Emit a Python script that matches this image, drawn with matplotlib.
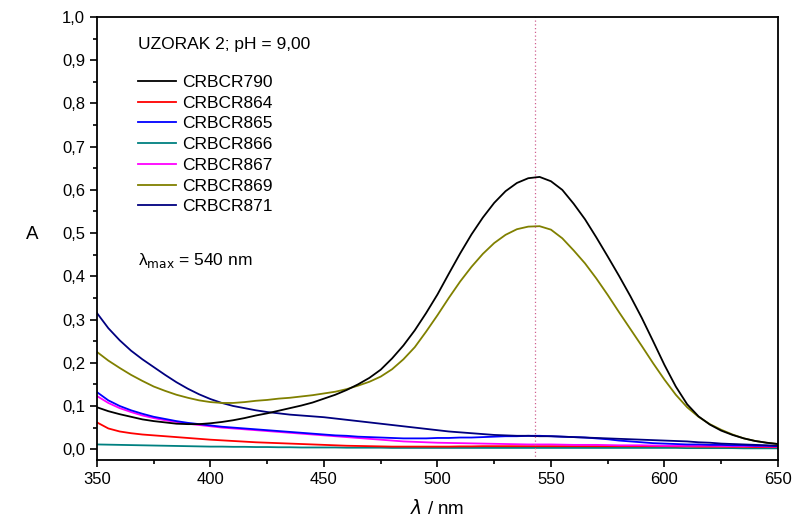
import matplotlib
matplotlib.use("Agg")
import matplotlib.pyplot as plt
from matplotlib.ticker import MultipleLocator, FuncFormatter

plt.rcParams['font.family'] = ['Liberation Sans', 'DejaVu Sans']

wavelength = list(range(350, 651, 5))

crbcr790 = [0.097, 0.088, 0.081, 0.075, 0.069, 0.065, 0.062, 0.059, 0.058, 0.058,
            0.060, 0.063, 0.067, 0.072, 0.078, 0.083, 0.089, 0.095, 0.101, 0.108,
            0.117, 0.126, 0.137, 0.150, 0.165, 0.184, 0.210, 0.240, 0.275, 0.315,
            0.358, 0.406, 0.453, 0.497, 0.536, 0.570, 0.597, 0.616, 0.627, 0.630,
            0.620, 0.600, 0.568, 0.532, 0.490, 0.446, 0.401, 0.354, 0.304, 0.250,
            0.195, 0.145, 0.104, 0.076, 0.057, 0.043, 0.033, 0.025, 0.019, 0.015, 0.012]
crbcr864 = [0.062, 0.048, 0.041, 0.037, 0.034, 0.032, 0.030, 0.028, 0.026, 0.024,
            0.022, 0.0205, 0.019, 0.0175, 0.016, 0.015, 0.014, 0.013, 0.012, 0.011,
            0.010, 0.009, 0.008, 0.0075, 0.007, 0.0065, 0.006, 0.006, 0.006, 0.006,
            0.006, 0.006, 0.0065, 0.0065, 0.007, 0.007, 0.007, 0.007, 0.007, 0.007,
            0.007, 0.007, 0.007, 0.007, 0.007, 0.007, 0.007, 0.007, 0.007, 0.007,
            0.007, 0.0065, 0.0065, 0.006, 0.006, 0.006, 0.0055, 0.0055, 0.005, 0.005, 0.005]
crbcr865 = [0.132, 0.113, 0.100, 0.090, 0.082, 0.075, 0.070, 0.065, 0.061, 0.058,
            0.055, 0.052, 0.050, 0.048, 0.046, 0.044, 0.042, 0.040, 0.038, 0.036,
            0.034, 0.032, 0.031, 0.029, 0.028, 0.027, 0.026, 0.025, 0.025, 0.025,
            0.026, 0.026, 0.027, 0.027, 0.028, 0.029, 0.030, 0.030, 0.031, 0.031,
            0.030, 0.029, 0.028, 0.027, 0.025, 0.023, 0.020, 0.018, 0.016, 0.014,
            0.013, 0.012, 0.011, 0.011, 0.010, 0.010, 0.009, 0.009, 0.008, 0.008, 0.007]
crbcr866 = [0.011, 0.0105, 0.010, 0.0095, 0.009, 0.0085, 0.008, 0.0075, 0.007, 0.0065,
            0.006, 0.006, 0.0055, 0.0055, 0.005, 0.005, 0.0045, 0.0045, 0.004, 0.004,
            0.004, 0.004, 0.0035, 0.0035, 0.0035, 0.0035, 0.003, 0.003, 0.003, 0.003,
            0.003, 0.003, 0.003, 0.003, 0.003, 0.003, 0.003, 0.003, 0.003, 0.003,
            0.003, 0.003, 0.003, 0.003, 0.003, 0.003, 0.003, 0.003, 0.003, 0.003,
            0.003, 0.003, 0.0025, 0.0025, 0.0025, 0.0025, 0.0025, 0.002, 0.002, 0.002, 0.002]
crbcr867 = [0.123, 0.107, 0.095, 0.086, 0.078, 0.072, 0.067, 0.063, 0.059, 0.056,
            0.053, 0.050, 0.048, 0.046, 0.044, 0.042, 0.040, 0.038, 0.036, 0.034,
            0.032, 0.030, 0.028, 0.026, 0.024, 0.022, 0.020, 0.018, 0.017, 0.016,
            0.015, 0.0145, 0.014, 0.0135, 0.013, 0.0125, 0.012, 0.0115, 0.011, 0.011,
            0.011, 0.0105, 0.010, 0.010, 0.010, 0.0095, 0.009, 0.009, 0.009, 0.0085,
            0.008, 0.008, 0.008, 0.008, 0.008, 0.0075, 0.007, 0.007, 0.007, 0.0065, 0.006]
crbcr869 = [0.225, 0.205, 0.188, 0.172, 0.158, 0.145, 0.135, 0.126, 0.119, 0.113,
            0.109, 0.107, 0.107, 0.109, 0.112, 0.114, 0.117, 0.119, 0.122, 0.125,
            0.129, 0.133, 0.139, 0.147, 0.156, 0.168, 0.185, 0.208, 0.236, 0.272,
            0.310, 0.350, 0.388, 0.422, 0.452, 0.477, 0.496, 0.509, 0.515, 0.516,
            0.508, 0.488, 0.460, 0.430, 0.395, 0.357, 0.317, 0.278, 0.239, 0.199,
            0.161, 0.126, 0.097, 0.075, 0.058, 0.045, 0.034, 0.025, 0.019, 0.015, 0.012]
crbcr871 = [0.315, 0.280, 0.252, 0.228, 0.208, 0.190, 0.172, 0.155, 0.140, 0.127,
            0.116, 0.107, 0.100, 0.095, 0.090, 0.086, 0.083, 0.080, 0.078, 0.076,
            0.074, 0.071, 0.068, 0.065, 0.062, 0.059, 0.056, 0.053, 0.050, 0.047,
            0.044, 0.041, 0.039, 0.037, 0.035, 0.033, 0.032, 0.031, 0.031, 0.030,
            0.030, 0.029, 0.028, 0.027, 0.026, 0.025, 0.024, 0.023, 0.022, 0.021,
            0.020, 0.019, 0.018, 0.016, 0.015, 0.013, 0.012, 0.011, 0.010, 0.009, 0.008]

series_names = ["CRBCR790", "CRBCR864", "CRBCR865", "CRBCR866", "CRBCR867", "CRBCR869", "CRBCR871"]
series_values = [crbcr790, crbcr864, crbcr865, crbcr866, crbcr867, crbcr869, crbcr871]
series_colors = ["#000000", "#ff0000", "#0000ff", "#008080", "#ff00ff", "#808000", "#000080"]

lambda_max_line = 543

fig = plt.figure(figsize=(7.93, 5.25), dpi=100)
ax = fig.add_axes([0.1223, 0.1238, 0.8587, 0.8438])

draw_order = [3, 1, 4, 2, 6, 5, 0]
handles = {}
for i in draw_order:
    h, = ax.plot(wavelength, series_values[i], color=series_colors[i], lw=1.3, label=series_names[i])
    handles[i] = h

ax.axvline(lambda_max_line, color="#d06090", lw=0.9, ls=(0, (1, 2)))

ax.set_xlim(350, 650)
ax.set_ylim(-0.025, 1.0)
ax.xaxis.set_major_locator(MultipleLocator(50))
ax.xaxis.set_minor_locator(MultipleLocator(25))
ax.yaxis.set_major_locator(MultipleLocator(0.1))
ax.yaxis.set_minor_locator(MultipleLocator(0.05))
ax.yaxis.set_major_formatter(FuncFormatter(lambda v, p: f"{v:.1f}".replace(".", ",").replace("-0,0", "0,0")))
ax.tick_params(axis='both', which='major', direction='out', length=5, width=1.2, labelsize=12, colors='black')
ax.tick_params(axis='both', which='minor', direction='out', length=3, width=1.2)
for s in ax.spines.values():
    s.set_linewidth(1.3)

ax.set_xlabel(r"$\lambda$ / nm", fontsize=13.5, labelpad=9)
ax.set_ylabel("A", fontsize=13.5, rotation=0, va='center')
ax.yaxis.set_label_coords(-0.095, 0.51)

ax.text(0.06, 0.939, "UZORAK 2; pH = 9,00", transform=ax.transAxes, fontsize=12.5, va='center', ha='left')
leg = ax.legend([handles[i] for i in range(7)], series_names, loc='upper left',
                bbox_to_anchor=(0.05, 0.885), frameon=False, fontsize=12.5,
                handlelength=2.2, handletextpad=0.35, labelspacing=0.32, borderaxespad=0)
ax.text(0.06, 0.451, r"λ$_{\mathrm{max}}$ = 540 nm", transform=ax.transAxes, fontsize=12.5, va='center', ha='left')

fig.savefig("out.png", dpi=100)
